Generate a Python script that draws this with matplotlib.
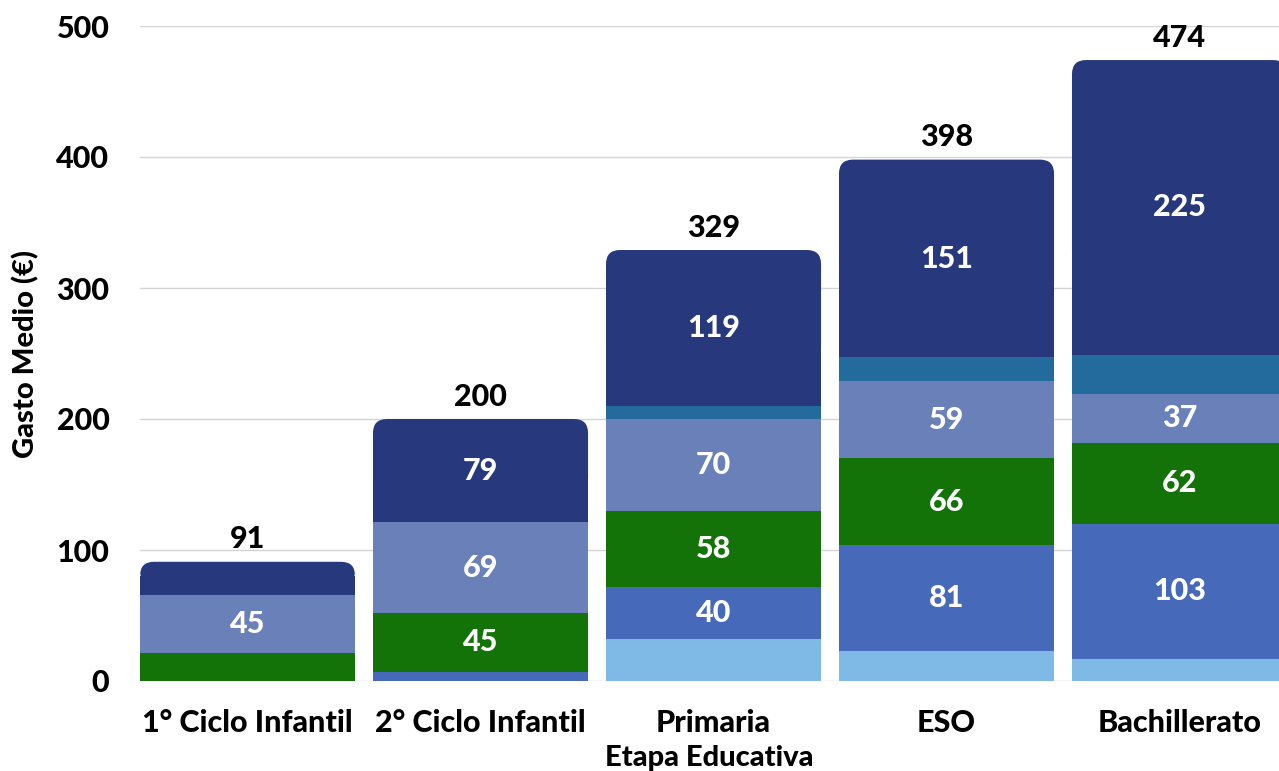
import matplotlib
matplotlib.use('Agg')
import matplotlib.pyplot as plt
from matplotlib.patches import FancyBboxPatch
import numpy as np

plt.rcParams['font.family'] = ['Lato', 'DejaVu Sans']
plt.rcParams['font.weight'] = 'black'

# data
categories = ['1° Ciclo Infantil', '2° Ciclo Infantil', 'Primaria', 'ESO', 'Bachillerato']
light_blue = [0, 0, 32, 23, 17]
mid_blue = [0, 7, 40, 81, 103]
green = [21, 45, 58, 66, 62]
grey_blue = [45, 69, 70, 59, 37]
teal = [0, 0, 10, 18, 30]
navy = [25, 79, 119, 151, 225]
y_ticks = [0, 100, 200, 300, 400, 500]

series = [light_blue, mid_blue, green, grey_blue, teal, navy]
colors = ['#7fbae6', '#4769ba', '#137308', '#6a80b8', '#226b9c', '#27397c']

W, H = 1279, 771
fig = plt.figure(figsize=(W / 100, H / 100), dpi=100)
left, right, bottom, top = 140, 1279, 681, 26
ax = fig.add_axes([left / W, (H - bottom) / H, (right - left) / W, (bottom - top) / H])

x = np.arange(len(categories))
width = 0.923
xlim = (-width / 2, 4.427)
ylim = (0, 500)
ax.set_xlim(*xlim)
ax.set_ylim(*ylim)

# pixel scales for circular corners
px_x = (right - left) / (xlim[1] - xlim[0])
px_y = (bottom - top) / (ylim[1] - ylim[0])
radius_px = 14
r_x = radius_px / px_x
r_y = radius_px / px_y

base = np.zeros(len(categories))
for k, (vals, col) in enumerate(zip(series, colors)):
    vals = np.array(vals, dtype=float)
    if k < len(series) - 1:
        ax.bar(x, vals, width, bottom=base, color=col, zorder=2, linewidth=0)
    else:
        # top segment with rounded top corners
        ax.bar(x, vals - r_y, width, bottom=base, color=col, zorder=2, linewidth=0)
        for xi, b, h in zip(x, base, vals):
            p = FancyBboxPatch((xi - width / 2, b + 0.3 * h), width, 0.7 * h,
                               boxstyle=f"round,pad=0,rounding_size={r_x}",
                               mutation_aspect=px_x / px_y,
                               facecolor=col, edgecolor='none', zorder=2)
            ax.add_patch(p)
    for xi, b, v in zip(x, base, vals):
        if v >= 35:
            ax.text(xi, b + v / 2, f'{int(v)}', ha='center', va='center',
                    color='white', fontsize=22, fontweight='black', zorder=3)
    base += vals

for xi, t in zip(x, base):
    ax.annotate(f'{int(t)}', (xi, t), xytext=(0, 6), textcoords='offset points',
                ha='center', va='bottom', fontsize=22, fontweight='black', color='black')

ax.set_yticks(y_ticks)
ax.set_xticks(x)
ax.set_xticklabels(categories)
ax.tick_params(axis='both', length=0, labelsize=22)
ax.tick_params(axis='y', pad=22)
ax.tick_params(axis='x', pad=20)
ax.grid(axis='y', color='#d4d4d4', linewidth=1, zorder=0)
ax.set_axisbelow(True)
for s in ax.spines.values():
    s.set_visible(False)

ax.set_xlabel('Etapa Educativa', fontsize=21, fontweight='black', labelpad=6)
ax.set_ylabel('Gasto Medio (€)', fontsize=21, fontweight='black', labelpad=12)

fig.savefig('out.png', dpi=100)
